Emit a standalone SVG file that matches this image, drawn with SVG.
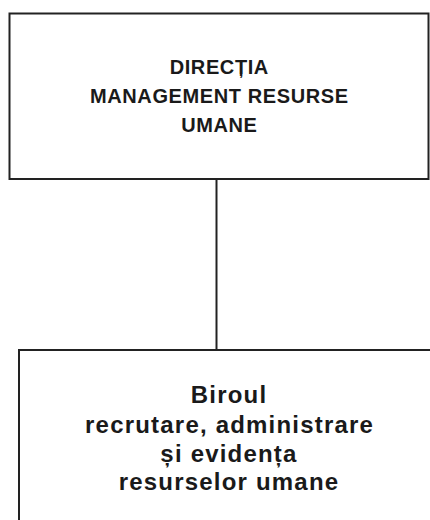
<svg xmlns="http://www.w3.org/2000/svg" width="430" height="520" viewBox="0 0 430 520">
<style>
.box{fill:#fff;stroke:#222;stroke-width:2}
.conn{stroke:#222;stroke-width:2;fill:none}
.t1{font-family:"Liberation Sans",Arial,sans-serif;font-weight:bold;font-size:20px;letter-spacing:0.6px;fill:#1a1a1a;text-anchor:middle}
.t2{font-family:"Liberation Sans",Arial,sans-serif;font-weight:bold;font-size:24px;letter-spacing:1.2px;fill:#1a1a1a;text-anchor:middle}
</style>
<rect width="430" height="520" fill="#fff"/>
<g id="connectors">
<line class="conn" x1="216.5" y1="179" x2="216.5" y2="350"/>
</g>
<g id="node-directia">
<rect class="box" x="9.5" y="13.5" width="419" height="165.5"/>
<text class="t1" x="219.3" y="74.3">DIRECȚIA</text>
<text class="t1" x="219.3" y="103.3">MANAGEMENT RESURSE</text>
<text class="t1" x="219.3" y="131.7">UMANE</text>
</g>
<g id="node-birou">
<rect class="box" x="19" y="350" width="430" height="200"/>
<text class="t2" x="229" y="403.3">Biroul</text>
<text class="t2" x="229.6" y="433.3">recrutare, administrare</text>
<text class="t2" x="229" y="462.3">și evidența</text>
<text class="t2" x="229" y="490">resurselor umane</text>
</g>
</svg>
